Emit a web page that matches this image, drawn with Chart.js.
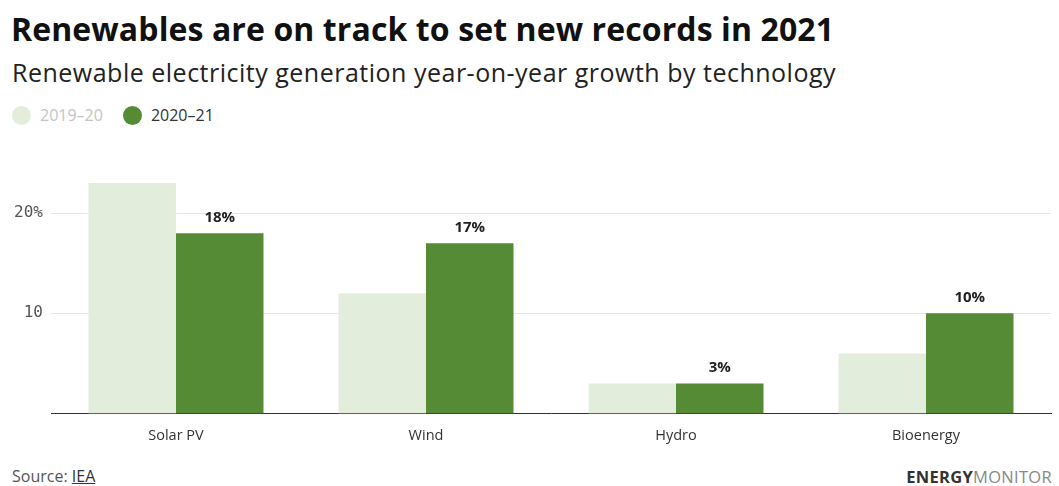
<!DOCTYPE html>
<html>
<head>
<meta charset="utf-8">
<script src="https://cdn.jsdelivr.net/npm/chart.js@4"></script>
<style>
  body { margin: 0; background: #fff; font-family: "Open Sans", sans-serif; }
  #wrap { position: relative; width: 1059px; height: 486px; overflow: hidden; }
  h1 { position: absolute; left: 11px; top: 9px; margin: 0; font-size: 32px; line-height: 40px; font-weight: 700; color: #111; letter-spacing: 0.1px; white-space: nowrap; }
  h2 { position: absolute; left: 12px; top: 55px; margin: 0; font-size: 25px; line-height: 34px; font-weight: 400; color: #222; letter-spacing: 0.5px; white-space: nowrap; }
  .legend { position: absolute; left: 12px; top: 104px; font-size: 16px; display: flex; align-items: center; }
  .legend span.dot { display: inline-block; width: 19px; height: 19px; border-radius: 50%; margin-right: 9px; }
  .legend .item { display: flex; align-items: center; margin-right: 20px; }
  #chartBox { position: absolute; left: 0; top: 140px; width: 1059px; height: 311px; }
  .source { position: absolute; left: 12px; top: 465px; font-size: 16px; color: #555; }
  .source u { color: #333; }
  .brand { position: absolute; right: 7px; top: 465px; font-size: 16.5px; letter-spacing: 0.3px; }
  .brand b { color: #333; }
  .brand span { color: #888; }
</style>
</head>
<body>
<div id="wrap">
  <h1>Renewables are on track to set new records in 2021</h1>
  <h2>Renewable electricity generation year-on-year growth by technology</h2>
  <div class="legend">
    <div class="item"><span class="dot" style="background:#e2eedb"></span><span style="color:#c4c4c4">2019–20</span></div>
    <div class="item"><span class="dot" style="background:#548b34"></span><span style="color:#333">2020–21</span></div>
  </div>
  <div id="chartBox"><canvas id="growthChart" width="1059" height="311"></canvas></div>
  <div class="source">Source: <u>IEA</u></div>
  <div class="brand"><b>ENERGY</b><span>MONITOR</span></div>
</div>
<script>
// growth in renewable generation, percent
var technologies = ['Solar PV', 'Wind', 'Hydro', 'Bioenergy'];
var growth2019 = [23, 12, 3, 6];
var growth2020 = [18, 17, 3, 10];
var yTicks = [10, 20];

// labels on top of the 2020-21 bars
var valueLabels = {
    id: 'valueLabels',
    afterDatasetsDraw: function (chart) {
        var ctx = chart.ctx;
        var meta = chart.getDatasetMeta(1);
        ctx.save();
        ctx.font = 'bold 15px "Open Sans"';
        ctx.fillStyle = '#222';
        ctx.textAlign = 'center';
        ctx.textBaseline = 'bottom';
        meta.data.forEach(function (bar, i) {
            ctx.fillText(growth2020[i] + '%', bar.x, bar.y - 8);
        });
        ctx.restore();
    }
};

var ctx = document.getElementById('growthChart');
var growthChart = new Chart(ctx, {
    type: 'bar',
    data: {
        labels: technologies,
        datasets: [{
            label: '2019–20',
            data: growth2019,
            backgroundColor: '#e2eedb',
            borderWidth: 0
        }, {
            label: '2020–21',
            data: growth2020,
            backgroundColor: '#548b34',
            borderWidth: 0
        }]
    },
    options: {
        responsive: false,
        animation: false,
        maintainAspectRatio: false,
        layout: { padding: { top: 43, right: 8, left: 0, bottom: 0 } },
        plugins: {
            legend: { display: false },
            tooltip: { enabled: false }
        },
        datasets: {
            bar: { categoryPercentage: 0.7, barPercentage: 1.0 }
        },
        scales: {
            x: {
                grid: { display: false },
                border: { color: '#333', width: 1 },
                ticks: { color: '#333', maxRotation: 0, font: { family: 'Open Sans', size: 14.5 }, padding: 6 }
            },
            y: {
                min: 0,
                max: 23,
                afterBuildTicks: function (scale) {
                    scale.ticks = yTicks.map(function (v) { return { value: v }; });
                },
                afterFit: function (scale) { scale.width = 51; },
                border: { display: false },
                grid: { color: '#e6e6e6', drawTicks: false },
                ticks: {
                    color: '#555',
                    padding: 8,
                    font: { family: 'DejaVu Sans Mono', size: 16 },
                    callback: function (v) { return v === 20 ? v + '%' : v; }
                }
            }
        }
    },
    plugins: [valueLabels]
});
</script>
</body>
</html>
